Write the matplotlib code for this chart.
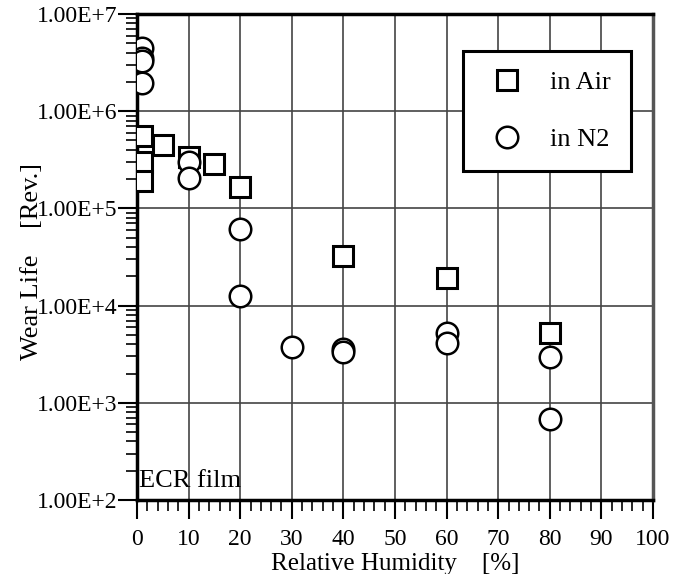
import numpy as np
import matplotlib.pyplot as plt
from matplotlib.ticker import FixedLocator, LogLocator, FuncFormatter, MultipleLocator

# ----------------------------
# Data
# ----------------------------

air_rh   = [1, 1, 1, 5, 10, 15, 20, 40, 60, 80]
air_life = [5.5e5, 3.0e5, 1.9e5, 4.5e5, 3.4e5, 2.87e5, 1.66e5, 3.24e4, 1.92e4, 5.25e3]

n2_rh   = [1, 1, 1, 1, 10, 10, 20, 20, 30, 40, 40, 60, 60, 80, 80]
n2_life = [4.5e6, 3.5e6, 3.3e6, 1.95e6, 3.0e5, 2.06e5, 6.1e4, 1.26e4,
           3.75e3, 3.6e3, 3.3e3, 5.25e3, 4.1e3, 2.95e3, 6.8e2]

decades = [1e2, 1e3, 1e4, 1e5, 1e6, 1e7]
x_ticks = list(range(0, 101, 10))

# ----------------------------
# Figure
# ----------------------------

plt.rcParams["font.family"] = ["Liberation Serif", "DejaVu Serif"]

fig = plt.figure(figsize=(6.88, 5.74), dpi=100)
ax = fig.add_axes([0.1991, 0.1289, 0.750, 0.8467])

ax.set_yscale("log")
ax.set_xlim(0, 100)
ax.set_ylim(1e2, 1e7)

ax.grid(True, which="major", color="#444444", lw=1.2, zorder=0)

ax.plot(air_rh, air_life, ls="none", marker="s", ms=14, mfc="white",
        mec="black", mew=2.2, label="in Air", zorder=3)
ax.plot(n2_rh, n2_life, ls="none", marker="o", ms=15.5, mfc="white",
        mec="black", mew=1.8, label="in N2", zorder=3)

ax.xaxis.set_major_locator(FixedLocator(x_ticks))
ax.xaxis.set_minor_locator(MultipleLocator(2))
ax.yaxis.set_major_locator(FixedLocator(decades))
ax.yaxis.set_minor_locator(LogLocator(base=10, subs=np.arange(2, 10)))
ax.yaxis.set_major_formatter(FuncFormatter(lambda v, p: f"1.00E+{int(round(np.log10(v)))}"))
ax.yaxis.set_minor_formatter(FuncFormatter(lambda v, p: ""))

ax.tick_params(axis="both", which="major", direction="out", length=14, width=1.5,
               labelsize=17, colors="black")
ax.tick_params(axis="both", which="minor", direction="out", length=8, width=1.2)
ax.tick_params(axis="x", which="major", pad=7)
ax.tick_params(axis="y", which="major", pad=0)

for side in ["left", "bottom", "top"]:
    ax.spines[side].set_linewidth(2.5)
    ax.spines[side].set_color("black")
ax.spines["right"].set_linewidth(2.5)
ax.spines["right"].set_color("#555555")

ax.set_xlabel("Relative Humidity    [%]", fontsize=18, labelpad=2)
ax.set_ylabel("Wear Life    [Rev.]", fontsize=19)
ax.yaxis.set_label_coords(-0.183, 0.49)

ax.text(0.004, 0.016, "ECR film", transform=ax.transAxes, fontsize=19,
        ha="left", va="bottom")

leg = ax.legend(loc="upper right", bbox_to_anchor=(0.957, 0.924), fontsize=19,
                frameon=True, fancybox=False, framealpha=1, edgecolor="black",
                borderpad=0.75, labelspacing=1.28, handletextpad=0.7,
                handlelength=1.85, borderaxespad=0)
leg.get_frame().set_linewidth(2.2)

fig.savefig("out.png", dpi=100)
